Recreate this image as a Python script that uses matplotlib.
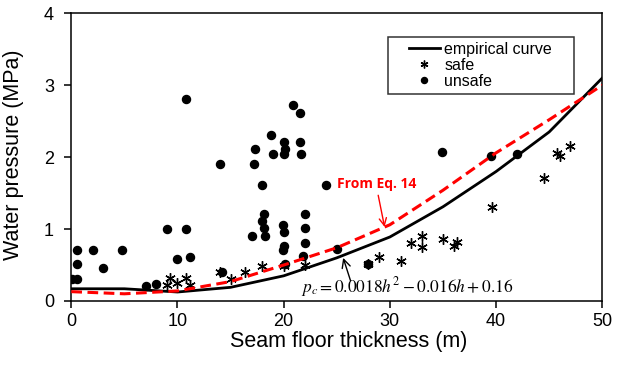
"""
Water pressure vs seam floor thickness: safe / unsafe cases with empirical curve.
"""
import matplotlib
matplotlib.use('Agg')
import matplotlib.pyplot as plt
from matplotlib.lines import Line2D
from matplotlib.legend_handler import HandlerLine2D

plt.rcParams['font.family'] = ['Liberation Sans', 'DejaVu Sans']
plt.rcParams['mathtext.fontset'] = 'stix'

# empirical curve (black) and Eq. 14 curve (red dashed)
curve_h = [0, 5, 10, 15, 20, 25, 30, 35, 40, 45, 50]
curve_p = [0.17, 0.17, 0.125, 0.19, 0.35, 0.6, 0.89, 1.31, 1.8, 2.35, 3.1]
eq14_p = [0.13, 0.1, 0.14, 0.27, 0.5, 0.74, 1.06, 1.54, 2.06, 2.52, 3.0]

safe_h = [9.3, 9.0, 10.0, 10.8, 11.2, 14.0, 15.0, 16.4, 18.0, 20.0, 22.0, 27.9, 29.0,
          31.0, 32.0, 33.0, 33.0, 35.0, 36.0, 36.3, 39.6, 44.5, 45.7, 46.0, 47.0]
safe_p = [0.32, 0.22, 0.25, 0.32, 0.22, 0.41, 0.31, 0.41, 0.48, 0.48, 0.5, 0.52, 0.61,
          0.55, 0.8, 0.91, 0.75, 0.86, 0.76, 0.82, 1.3, 1.71, 2.06, 2.01, 2.16]

unsafe_h = [0.1, 0.5, 0.5, 0.5, 2.0, 3.0, 4.8, 7.0, 8.0, 9.0, 10.0, 10.8, 10.8, 11.2,
            14.0, 14.2, 17.0, 17.3, 17.2, 20.9, 21.5, 18.8, 19.0, 20.0, 20.0, 20.1,
            21.5, 21.6, 18.0, 24.0, 34.9, 18.1, 18.0, 18.1, 18.2, 19.9, 20.0, 20.0,
            19.9, 22.0, 22.0, 22.0, 21.8, 20.1, 25.0, 27.9, 39.5, 42.0]
unsafe_p = [0.31, 0.31, 0.51, 0.71, 0.71, 0.46, 0.71, 0.21, 0.24, 1.0, 0.58, 2.81, 1.0, 0.61,
            1.91, 0.41, 0.91, 2.11, 1.91, 2.72, 2.61, 2.31, 2.05, 2.21, 2.05, 2.11,
            2.21, 2.05, 1.61, 1.61, 2.07, 1.21, 1.11, 1.01, 0.91, 1.06, 0.96, 0.76,
            0.71, 1.21, 1.01, 0.8, 0.62, 0.51, 0.72, 0.52, 2.01, 2.05]

fig = plt.figure(figsize=(6.2, 3.66), dpi=100)
ax = fig.add_axes([0.115, 0.1776, 0.8564, 0.7861])

ax.plot(curve_h, curve_p, color='k', lw=2.0, label='empirical curve', zorder=3)
ax.plot(safe_h, safe_p, ls='none', marker=(6, 2, 0), ms=7.5, mew=1.0, color='k',
        label='safe', zorder=4)
ax.plot(unsafe_h, unsafe_p, ls='none', marker='o', ms=5.8, color='k',
        label='unsafe', zorder=4)
ax.plot(curve_h, eq14_p, color='#ff0000', lw=2.2, ls=(0, (3.5, 1.8)), zorder=5)

# annotations
ax.text(25.0, 1.62, 'From Eq. 14', color='#ff0000', fontsize=10, fontweight='bold',
        ha='left', va='center', family=['Open Sans', 'DejaVu Sans'])
ax.annotate('', xy=(29.5, 1.03), xytext=(28.9, 1.47),
            arrowprops=dict(arrowstyle='->', color='#ff0000', lw=1.0, mutation_scale=13,
                            shrinkA=0, shrinkB=0))
ax.text(21.6, 0.19, r'$p_c = 0.0018h^2 - 0.016h + 0.16$', fontsize=12.5,
        ha='left', va='center')
ax.annotate('', xy=(25.6, 0.6), xytext=(26.3, 0.28),
            arrowprops=dict(arrowstyle='->', color='k', lw=1.0, mutation_scale=15,
                            shrinkA=0, shrinkB=0))

ax.set_xlim(0, 50)
ax.set_ylim(0, 4)
ax.set_xticks([0, 10, 20, 30, 40, 50])
ax.set_yticks([0, 1, 2, 3, 4])
ax.tick_params(direction='out', length=5, width=1.1, labelsize=13)
ax.tick_params(axis='y', pad=7.5)
for sp in ax.spines.values():
    sp.set_linewidth(1.1)
ax.set_xlabel('Seam floor thickness (m)', fontsize=15.5)
ax.set_ylabel('Water pressure (MPa)', fontsize=15.5)
ax.xaxis.set_label_coords(0.523, -0.105)
ax.yaxis.set_label_coords(-0.09, 0.51)

leg = ax.legend(loc='upper left', bbox_to_anchor=(0.596, 0.72, 0.351, 0.198),
                mode='expand', fontsize=11.5, frameon=True, fancybox=False,
                edgecolor='k', handlelength=3.0, borderpad=0.3, labelspacing=0.07,
                handletextpad=0.25, markerscale=0.75, borderaxespad=0,
                handler_map={Line2D: HandlerLine2D(xpad=1.0)})
leg.get_frame().set_linewidth(1.1)

plt.savefig('out.png')
